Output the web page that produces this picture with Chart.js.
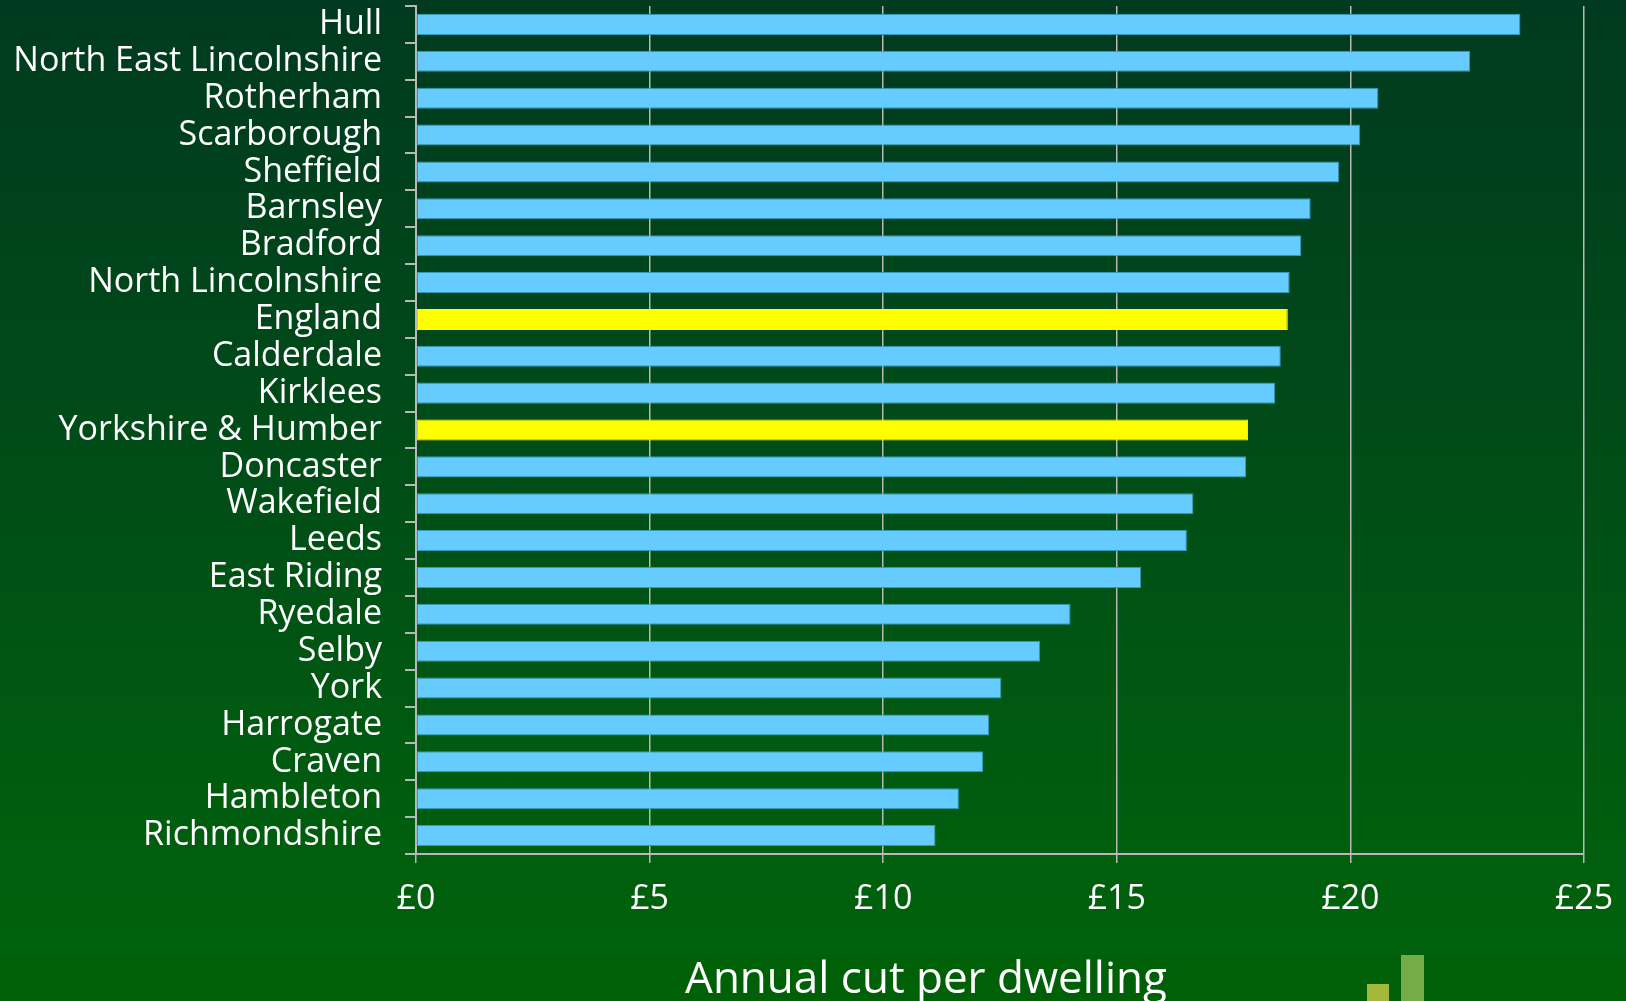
<!DOCTYPE html>
<html>
<head>
<meta charset="utf-8">
<script src="https://cdn.jsdelivr.net/npm/chart.js@4.4.1/dist/chart.umd.min.js"></script>
<style>
  html, body { margin: 0; padding: 0; }
  #wrap {
    position: relative;
    width: 1626px;
    height: 1001px;
    overflow: hidden;
    background: linear-gradient(to bottom, #003a1f 0%, #004a19 40%, #005a10 75%, #00640b 100%);
  }
  #band { position: absolute; left: 0; top: 955px; width: 1626px; height: 46px; background: #006008; }
  .logo { position: absolute; }
  #logo1 { left: 1367px; top: 984px; width: 22px; height: 17px; background: #a4b83c; }
  #logo2 { left: 1401px; top: 955px; width: 23px; height: 46px; background: #74ac48; }
  canvas { position: absolute; left: 0; top: 0; }
</style>
</head>
<body>
<div id="wrap">
  <div id="band"></div>
  <div class="logo" id="logo1"></div>
  <div class="logo" id="logo2"></div>
  <canvas id="chart" width="1626" height="1001"></canvas>
</div>
<script>
document.addEventListener("DOMContentLoaded", function () {
    const areas = [
        "Hull", "North East Lincolnshire", "Rotherham", "Scarborough", "Sheffield",
        "Barnsley", "Bradford", "North Lincolnshire", "England", "Calderdale",
        "Kirklees", "Yorkshire & Humber", "Doncaster", "Wakefield", "Leeds",
        "East Riding", "Ryedale", "Selby", "York", "Harrogate", "Craven",
        "Hambleton", "Richmondshire"
    ];
    const cutPerDwelling = [
        23.64, 22.56, 20.60, 20.21, 19.76,
        19.15, 18.95, 18.70, 18.66, 18.51,
        18.39, 17.81, 17.77, 16.64, 16.50,
        15.52, 14.01, 13.36, 12.53, 12.27, 12.14,
        11.62, 11.12
    ];
    const highlighted = ["England", "Yorkshire & Humber"];
    const xTicks = [0, 5, 10, 15, 20, 25];
    const axisTitle = "Annual cut per dwelling";

    const gridGrey = '#b8b8b8';
    const fontFamily = "'Open Sans', sans-serif";

    const barColors = areas.map(a => highlighted.includes(a) ? '#ffff00' : '#66ccff');
    const borderColors = areas.map(a => highlighted.includes(a) ? '#ffff00' : '#2f9bb8');

    // bottom title, drawn where the original sits
    const titlePlugin = {
        id: 'bottomTitle',
        afterDraw(chart) {
            const ctx = chart.ctx;
            ctx.save();
            ctx.fillStyle = '#ffffff';
            ctx.font = "44px " + fontFamily;
            ctx.textAlign = 'center';
            ctx.textBaseline = 'alphabetic';
            ctx.fillText(axisTitle, 926, 993);
            ctx.restore();
        }
    };

    new Chart(document.getElementById('chart'), {
        type: 'bar',
        data: {
            labels: areas,
            datasets: [{
                data: cutPerDwelling,
                backgroundColor: barColors,
                borderColor: borderColors,
                borderWidth: 1,
                borderSkipped: false,
                barPercentage: 0.57,
                categoryPercentage: 1
            }]
        },
        options: {
            indexAxis: 'y',
            responsive: false,
            animation: false,
            layout: { padding: { top: 6, right: 42, left: 0, bottom: 0 } },
            plugins: {
                legend: { display: false },
                tooltip: { enabled: false }
            },
            scales: {
                x: {
                    min: 0,
                    max: 25,
                    afterBuildTicks: (scale) => {
                        scale.ticks = xTicks.map(v => ({ value: v }));
                    },
                    afterFit: (scale) => {
                        scale.height = 147;
                        scale.paddingLeft = 0;
                        scale.paddingRight = 0;
                    },
                    grid: {
                        color: gridGrey,
                        lineWidth: 1.5,
                        tickLength: 9,
                        drawTicks: true
                    },
                    border: { display: true, color: gridGrey, width: 2 },
                    ticks: {
                        color: '#ffffff',
                        padding: 16,
                        font: { family: fontFamily, size: 34 },
                        callback: (v) => '£' + v
                    }
                },
                y: {
                    afterFit: (scale) => {
                        scale.width = 416;
                        scale.paddingTop = 0;
                        scale.paddingBottom = 0;
                    },
                    grid: {
                        drawOnChartArea: false,
                        color: gridGrey,
                        lineWidth: 2,
                        tickLength: 11,
                        offset: true
                    },
                    border: { display: true, color: gridGrey, width: 2 },
                    ticks: {
                        color: '#ffffff',
                        padding: 23,
                        autoSkip: false,
                        font: { family: fontFamily, size: 34 }
                    }
                }
            }
        },
        plugins: [titlePlugin]
    });
});
</script>
</body>
</html>
